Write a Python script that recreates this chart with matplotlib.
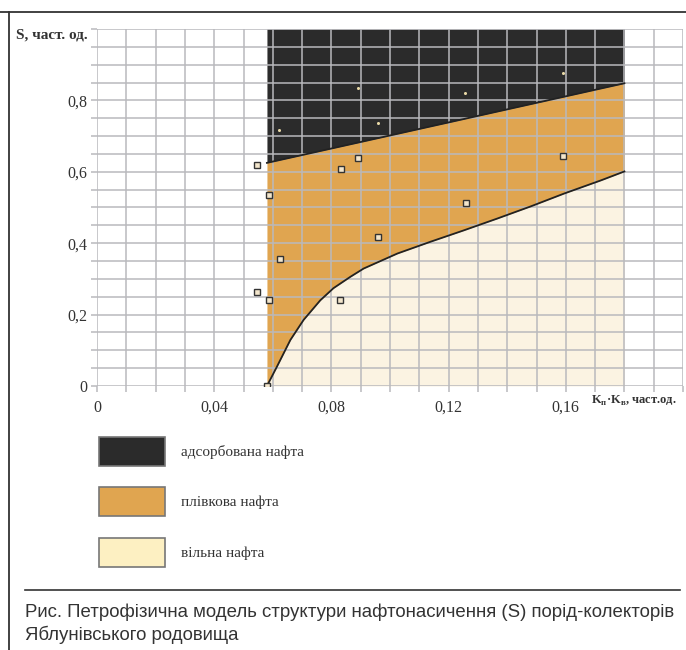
import numpy as np
import matplotlib
matplotlib.use('Agg')
import matplotlib.pyplot as plt
from matplotlib.patches import Rectangle

plt.rcParams['font.family'] = ['Liberation Serif', 'DejaVu Serif']
plt.rcParams['mathtext.fontset'] = 'custom'
plt.rcParams['mathtext.rm'] = 'Liberation Serif'
plt.rcParams['mathtext.bf'] = 'Liberation Serif:bold'

# boundary adsorbed / film oil (straight line)
upper_x = [0.058, 0.18]
upper_s = [0.625, 0.848]

# boundary film / free oil (curve)
lower_x = [0.058, 0.0614, 0.066, 0.0705, 0.0762, 0.0807, 0.0865, 0.091, 0.1025,
           0.1138, 0.1252, 0.1366, 0.148, 0.1594, 0.172, 0.18]
lower_s = [0.0, 0.054, 0.129, 0.185, 0.24, 0.274, 0.306, 0.329, 0.371,
           0.404, 0.436, 0.469, 0.503, 0.539, 0.576, 0.601]

# measured samples (squares)
pts_x = [0.0546, 0.0833, 0.0586, 0.0891, 0.159, 0.0623, 0.0546, 0.0586, 0.0831, 0.058, 0.1258, 0.0959]
pts_s = [0.62, 0.609, 0.536, 0.640, 0.643, 0.355, 0.264, 0.24, 0.24, 0.0, 0.513, 0.418]

# samples inside the adsorbed zone (light dots)
dots_x = [0.0622, 0.089, 0.0959, 0.1257, 0.159]
dots_s = [0.716, 0.836, 0.737, 0.82, 0.878]

x_labels = ['0', '0,04', '0,08', '0,12', '0,16']
y_labels = ['0', '0,2', '0,4', '0,6', '0,8']
legend_names = ['адсорбована нафта', 'плівкова нафта', 'вільна нафта']

c_black = '#2b2b2b'
c_orange = '#e0a550'
c_cream = '#fbf3e2'
c_grid = '#b9b9bd'

W, H = 686, 650
fig = plt.figure(figsize=(W / 100, H / 100), dpi=100)

ax = fig.add_axes([97 / W, 1 - 386 / H, 586 / W, 357 / H])
ax.set_xlim(0, 0.20)
ax.set_ylim(0, 1.0)

lx = np.array(lower_x)
up_on_lower = np.interp(lx, upper_x, upper_s)
ax.fill_between(lx, 0, lower_s, color=c_cream, lw=0, zorder=1)
ax.fill_between(lx, lower_s, up_on_lower, color=c_orange, lw=0, zorder=1)
ax.fill_between(upper_x, upper_s, 1.0, color=c_black, lw=0, zorder=1)
ax.plot(lower_x, lower_s, color='#222222', lw=1.3, zorder=3)
ax.plot(upper_x, upper_s, color='#222222', lw=1.3, zorder=3)

ax.plot(pts_x, pts_s, 's', ms=4, mfc='#f3e6cc', mec='#333333', mew=1.0, zorder=4)
ax.plot(dots_x, dots_s, 'o', ms=2.2, mfc='#e9d9a6', mec='none', zorder=4)

xt = np.arange(0, 21) * 0.01
yt = np.arange(0, 21) * 0.05
ax.set_xticks(xt)
ax.set_yticks(yt)
ax.set_xticklabels([x_labels[i // 4] if i % 4 == 0 and i // 4 < len(x_labels) else '' for i in range(21)],
                   fontsize=11.5, color='#333333')
ax.set_yticklabels([y_labels[i // 4] if i % 4 == 0 and i // 4 < len(y_labels) else '' for i in range(21)],
                   fontsize=11.5, color='#333333')
ax.tick_params(axis='both', length=4, width=1.1, color=c_grid, direction='out')
ax.tick_params(axis='x', pad=6)
ax.tick_params(axis='y', pad=3)
ax.set_axisbelow(False)
ax.grid(True, color=c_grid, lw=1.1)
for sp in ax.spines.values():
    sp.set_visible(False)

# overlay in pixel coords for frame, labels, legend and caption
ov = fig.add_axes([0, 0, 1, 1], zorder=-1)
ov.set_xlim(0, W)
ov.set_ylim(H, 0)
ov.axis('off')
ov.plot([0, W], [12, 12], color='#333333', lw=1.3)
ov.plot([9, 9], [12, H], color='#333333', lw=1.3)

fig.text(88 / W, 1 - 35 / H, 'S, част. од.', ha='right', va='center',
         fontsize=11, fontweight='bold', color='#333333')
fig.text(591 / W, 1 - 401 / H, r'K$_{\mathbf{п}}$·K$_{\mathbf{в}}$, част.од.', ha='left', va='center',
         fontsize=9, fontweight='bold', color='#333333')

leg_colors = [c_black, c_orange, '#fdf0c2']
leg_top = [437, 487, 538]
for name, col, top in zip(legend_names, leg_colors, leg_top):
    ov.add_patch(Rectangle((99, top), 66, 29, facecolor=col, edgecolor='#777777', lw=1.2))
    ov.text(181, top + 15, name, ha='left', va='center', fontsize=11, color='#333333')

ov.plot([25, 680], [590, 590], color='#333333', lw=1.2)
ov.text(25, 612, 'Рис. Петрофізична модель структури нафтонасичення (S) порід-колекторів',
        ha='left', va='center', fontsize=13.4, family='Liberation Sans', color='#333333')
ov.text(25, 635, 'Яблунівського родовища',
        ha='left', va='center', fontsize=13.4, family='Liberation Sans', color='#333333')

fig.savefig('out.png', dpi=100)
